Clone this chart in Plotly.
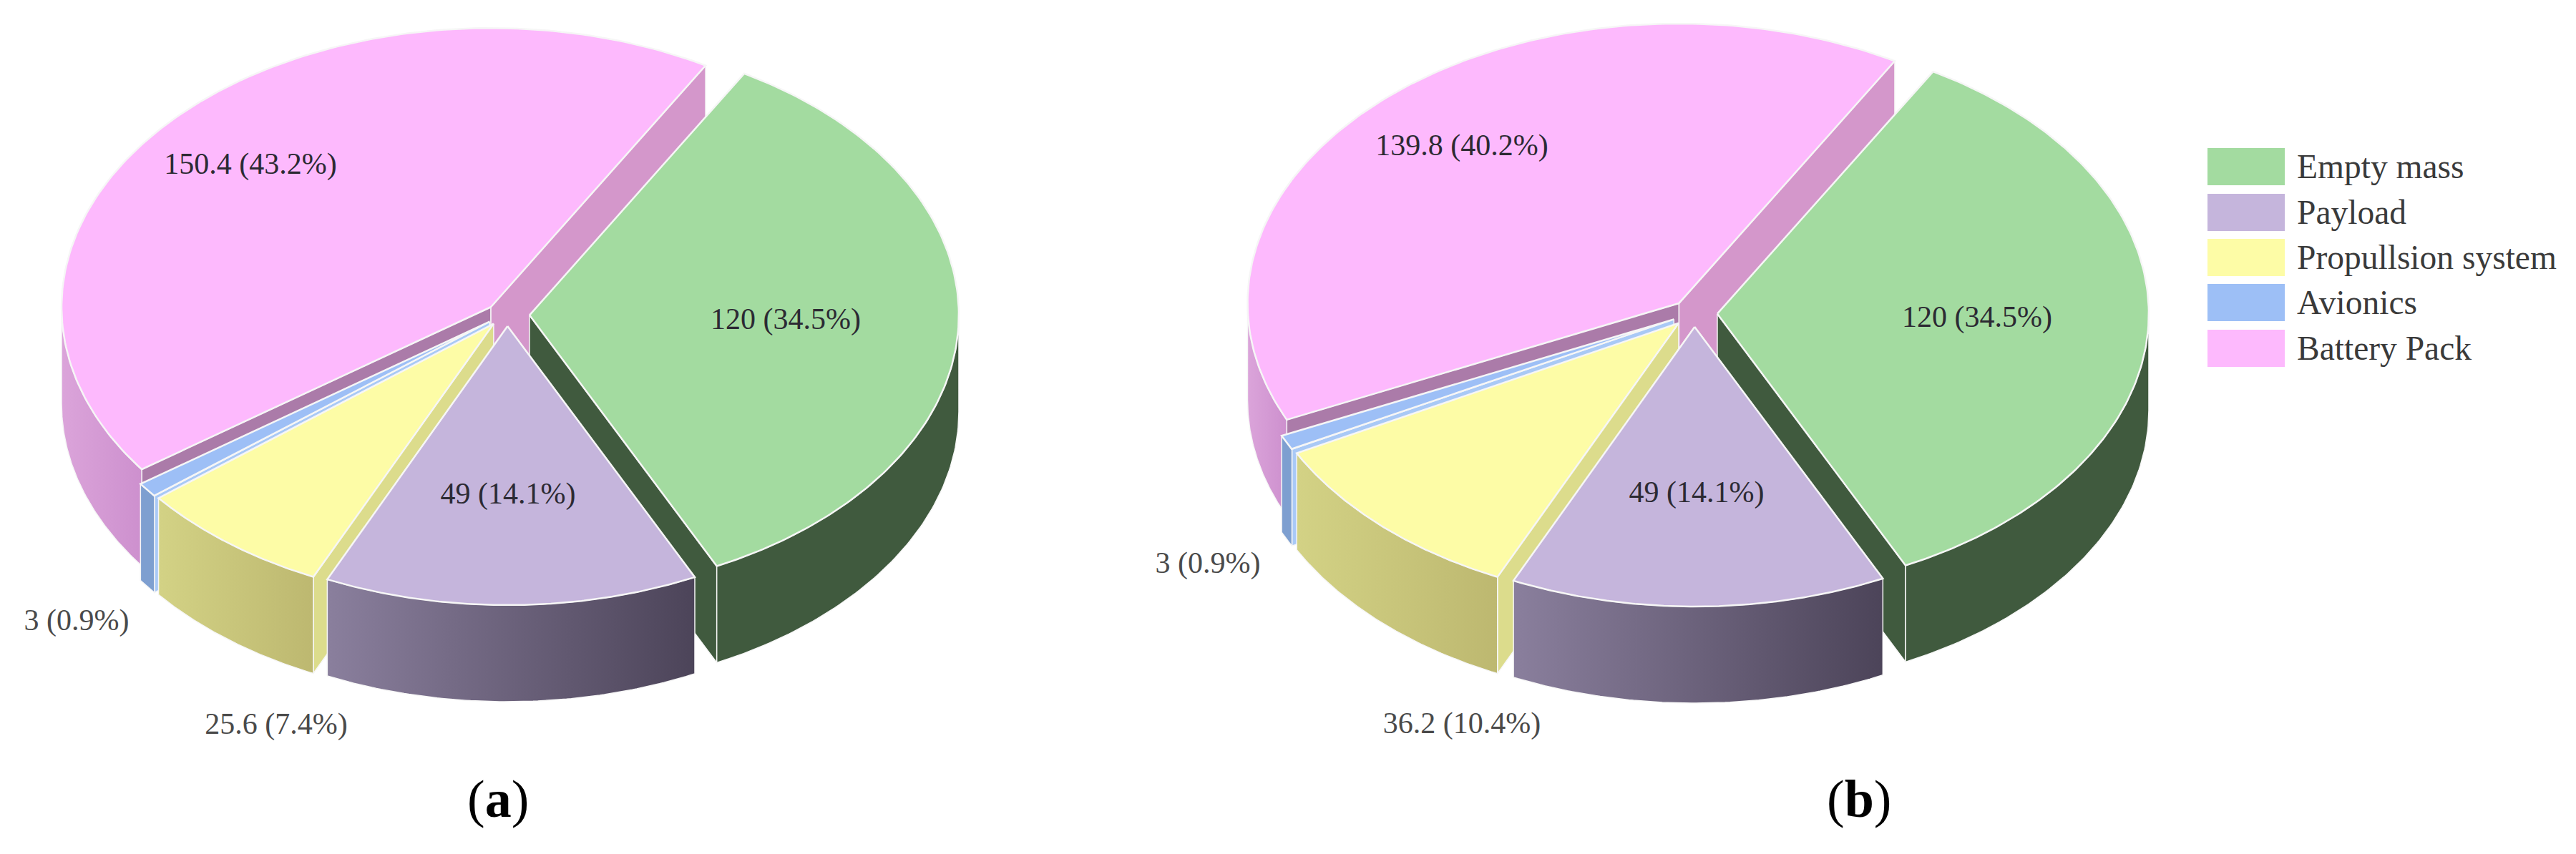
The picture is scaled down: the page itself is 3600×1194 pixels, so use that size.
import numpy as np
import plotly.graph_objects as go

# ---------- data ----------
categories = ["Empty mass", "Payload", "Propullsion system", "Avionics", "Battery Pack"]
values_a = [120, 49, 25.6, 3, 150.4]
values_b = [120, 49, 36.2, 3, 139.8]
panel_names = ["a", "b"]

# ---------- style ----------
top_colors = ["#a3dba0", "#c5b5dc", "#fdfca6", "#9dbff6", "#fdb9fd"]
outer_left = ["#405a3e", "#8a7f9d", "#d3d285", "#7e9fd0", "#dba4da"]
outer_right = ["#405a3e", "#4c4459", "#bdb870", "#7e9fd0", "#cd90ce"]
start_wall = ["#405a3e", "#6a6078", "#dcdc8c", "#a9c9f6", "#ab7ba9"]
end_wall = ["#405a3e", "#6a6078", "#dcdc8c", "#7e9fd0", "#d497cb"]
label_colors = ["#2c2a33", "#2c2a33", "#4a4a4a", "#4a4a4a", "#2c2a33"]
draw_order = [4, 3, 2, 0, 1]
EDGE = "#f6f6f6"
FONT = "Liberation Serif"
ROTATION = 30.0
SW = 3600
SH = 1194

panel_a = dict(cx=709, cy=440, rx=600, ry=390, depth=135, ex=31, ey=16)
panel_b = dict(cx=2368, cy=438, rx=603, ry=391, depth=135, ex=32, ey=19)
labels_a = [(1098, 449), (710, 693), (386, 1015), (107, 870), (350, 232)]
labels_b = [(2763, 446), (2371, 691), (2043, 1014), (1688, 790), (2043, 206)]
legend_y = [233, 297, 360, 423, 487]


def pt(p, vx, vy, deg):
    r = np.radians(deg)
    return vx + p["rx"] * np.sin(r), vy - p["ry"] * np.cos(r)


def poly(fig, x, y, fill=None, grad=None, edge=EDGE, lw=2.0, name=""):
    kw = dict(fillcolor=fill) if fill else dict(
        fillgradient=dict(type="horizontal", colorscale=[[0, grad[0]], [1, grad[1]]]))
    fig.add_trace(go.Scatter(x=list(x) + [x[0]], y=list(y) + [y[0]], mode="lines", fill="toself",
                             line=dict(color=edge, width=lw), hoverinfo="skip",
                             showlegend=False, name=name, **kw))


def draw_pie(fig, values, p):
    total = sum(values)
    spans = [v / total * 360 for v in values]
    starts = [ROTATION + sum(spans[:i]) for i in range(len(values))]
    for i in draw_order:
        a1, a2 = starts[i], starts[i] + spans[i]
        mid = np.radians((a1 + a2) / 2)
        vx = p["cx"] + p["ex"] * np.sin(mid)
        vy = p["cy"] - p["ey"] * np.cos(mid)
        d = p["depth"]
        # radial walls, drawn only when their normal faces the viewer
        if np.cos(np.radians(a1 - 90)) < 0:
            ex, ey = pt(p, vx, vy, a1)
            poly(fig, [vx, ex, ex, vx], [vy, ey, ey + d, vy + d], fill=start_wall[i], lw=1.5)
        if np.cos(np.radians(a2 + 90)) < 0:
            ex, ey = pt(p, vx, vy, a2)
            poly(fig, [vx, ex, ex, vx], [vy, ey, ey + d, vy + d], fill=end_wall[i], lw=1.5)
        # outer wall, front half only
        lo, hi = max(a1, 90), min(a2, 270)
        if hi > lo:
            th = np.linspace(lo, hi, 80)
            ax, ay = pt(p, vx, vy, th)
            wx = np.concatenate([ax, ax[::-1]])
            wy = np.concatenate([ay, ay[::-1] + d])
            poly(fig, wx, wy, grad=(outer_left[i], outer_right[i]), lw=1.5)
        # top face
        th = np.linspace(a1, a2, 160)
        ax, ay = pt(p, vx, vy, th)
        poly(fig, np.r_[vx, ax], np.r_[vy, ay], fill=top_colors[i], lw=2.5, name=categories[i])


def label_texts(values):
    t = sum(values)
    return [f"{v:g} ({100 * v / t:.1f}%)" for v in values]


fig = go.Figure()
for vals, p, pos in [(values_a, panel_a, labels_a), (values_b, panel_b, labels_b)]:
    draw_pie(fig, vals, p)
    fig.add_trace(go.Scatter(x=[q[0] for q in pos], y=[q[1] for q in pos], text=label_texts(vals),
                             mode="text", textposition="middle center",
                             textfont=dict(family=FONT, size=42, color=label_colors),
                             hoverinfo="skip", showlegend=False))

# sub-figure captions
for name, x in zip(panel_names, [696, 2598]):
    fig.add_annotation(x=x, y=1117, xref="x", yref="y", showarrow=False,
                       text=f"(<b>{name}</b>)", font=dict(family=FONT, size=74, color="#000000"))

# legend
for cat, col, y in zip(categories, top_colors, legend_y):
    fig.add_shape(type="rect", xref="x", yref="y", x0=3085, x1=3193, y0=y - 26, y1=y + 26,
                  fillcolor=col, line=dict(width=0))
    fig.add_annotation(x=3208, y=y, xref="x", yref="y", xanchor="left", showarrow=False,
                       text=cat, font=dict(family=FONT, size=47.5, color="#3a3a3a"))

fig.update_layout(width=SW, height=SH, margin=dict(l=0, r=0, t=0, b=0),
                  paper_bgcolor="white", plot_bgcolor="white", showlegend=False,
                  xaxis=dict(range=[0, SW], visible=False, fixedrange=True),
                  yaxis=dict(range=[SH, 0], visible=False, fixedrange=True))
fig.write_html("out.html", config={"displayModeBar": False},
               post_script="document.body.style.margin='0';")
